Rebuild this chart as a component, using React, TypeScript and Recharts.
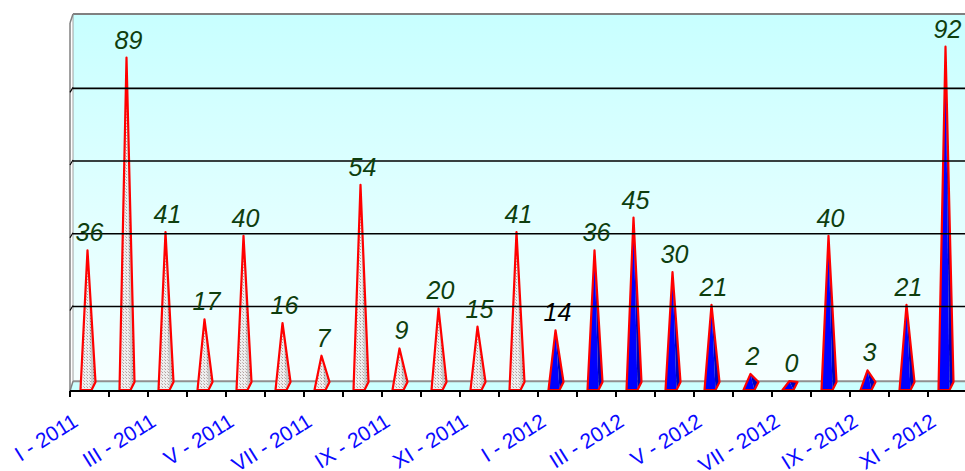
import React from 'react';
import { BarChart, Bar, XAxis, YAxis, ReferenceArea, ReferenceLine, LabelList } from 'recharts';

const months = [
  'I - 2011', 'II - 2011', 'III - 2011', 'IV - 2011', 'V - 2011', 'VI - 2011',
  'VII - 2011', 'VIII - 2011', 'IX - 2011', 'X - 2011', 'XI - 2011', 'XII - 2011',
  'I - 2012', 'II - 2012', 'III - 2012', 'IV - 2012', 'V - 2012', 'VI - 2012',
  'VII - 2012', 'VIII - 2012', 'IX - 2012', 'X - 2012', 'XI - 2012',
];
const values2011 = [36, 89, 41, 17, 40, 16, 7, 54, 9, 20, 15, 41];
const values2012 = [14, 36, 45, 30, 21, 2, 0, 40, 3, 21, 92];
const gridTicks = [20, 40, 60, 80];

const data = months.map((m, i) => ({
  month: m,
  year: i < values2011.length ? 2011 : 2012,
  value: i < values2011.length ? values2011[i] : values2012[i - values2011.length],
}));

const BAND = 39;
const AXIS_Y = 391;
const LABEL_GREEN = '#0e3e0e';

// back wall with the 3d edge on the left, defs live here too
const Wall = (p: any) => {
  const { x, y, width, height } = p;
  return (
    <g>
      <defs>
        <linearGradient id="wallGrad" x1="0" y1="0" x2="0" y2="1">
          <stop offset="0%" stopColor="#c8ffff" />
          <stop offset="100%" stopColor="#f6ffff" />
        </linearGradient>
        <pattern id="dots" width="3" height="3" patternUnits="userSpaceOnUse">
          <rect width="3" height="3" fill="#eeeeee" />
          <rect width="1" height="1" fill="#b0a0a0" />
          <rect x="2" y="2" width="1" height="1" fill="#c8b8b8" />
        </pattern>
        <pattern id="dotsDark" width="3" height="3" patternUnits="userSpaceOnUse">
          <rect width="3" height="3" fill="#c8c8c8" />
          <rect width="1" height="1" fill="#8a8080" />
        </pattern>
      </defs>
      <rect x={x + 3} y={y} width={width} height={height} fill="url(#wallGrad)" />
      <line x1={x + 3} y1={y} x2={x + width + 3} y2={y} stroke="#808080" strokeWidth={2} />
      <line x1={x + 3} y1={y} x2={x + 3} y2={y + height} stroke="#a0a0a0" strokeWidth={1} />
      <line x1={x + 3} y1={y} x2={x} y2={y + 9} stroke="#808080" strokeWidth={1.5} />
      <line x1={x} y1={y + 9} x2={x} y2={AXIS_Y} stroke="#808080" strokeWidth={1.5} />
    </g>
  );
};

const Floor = (p: any) => {
  const { x, y, width } = p;
  return (
    <g>
      <polygon
        points={`${x + 3},${y} ${x + width + 3},${y} ${x + width},${AXIS_Y} ${x},${AXIS_Y}`}
        fill="#ccffff"
      />
      <line x1={x + 3} y1={y} x2={x + width + 3} y2={y} stroke="#909090" strokeWidth={2} />
      <line x1={x + 3} y1={y} x2={x} y2={AXIS_Y} stroke="#808080" strokeWidth={1.5} />
    </g>
  );
};

// gridline on the back wall, a touch above the front value
const WallLine = (p: any) => {
  const { x1, y1, x2, y2 } = p;
  return (
    <g>
      <line x1={x1 + 3} y1={y1 - 2} x2={x2} y2={y2 - 2} stroke="#000" strokeWidth={1.6} />
      <line x1={x1} y1={y1 + 2} x2={x1 + 3} y2={y1 - 3} stroke="#000" strokeWidth={1.2} />
    </g>
  );
};

const Spike = (p: any) => {
  const { x, y, width, payload } = p;
  const cx = x + width / 2 - 2;
  const top = Math.min(y, 381);
  const is2011 = payload.year === 2011;
  const front = is2011 ? 'url(#dots)' : '#0000ff';
  const side = is2011 ? 'url(#dotsDark)' : '#0000b8';
  return (
    <g>
      <polygon points={`${cx - 7},${AXIS_Y - 1} ${cx},${top} ${cx + 4},${AXIS_Y - 1}`} fill={front} />
      <polygon points={`${cx},${top} ${cx + 8},${382} ${cx + 4},${AXIS_Y - 1}`} fill={side} />
      <polygon
        points={`${cx - 7},${AXIS_Y - 1} ${cx},${top} ${cx + 8},${382} ${cx + 4},${AXIS_Y - 1}`}
        fill="none"
        stroke="#ff0000"
        strokeWidth={2.2}
        strokeLinejoin="round"
      />
    </g>
  );
};

const ValueLabel = (p: any) => {
  const { x, y, width, value, index } = p;
  const cx = x + width / 2;
  const top = Math.min(y, 381);
  return (
    <text
      x={cx}
      y={top - 9}
      textAnchor="middle"
      fontFamily="'Liberation Sans', Arial, sans-serif"
      fontStyle="italic"
      fontSize={25}
      fill={index === 12 ? '#000000' : LABEL_GREEN}
    >
      {value}
    </text>
  );
};

const MonthTick = (p: any) => {
  const { x, payload, index } = p;
  const left = x - BAND / 2;
  const ax = x - 10;
  const ay = AXIS_Y + 34;
  return (
    <g>
      <line x1={left} y1={AXIS_Y} x2={left} y2={AXIS_Y + 6} stroke="#000" strokeWidth={2} />
      {index % 2 === 0 && (
        <text
          x={ax}
          y={ay}
          textAnchor="end"
          transform={`rotate(-32, ${ax}, ${ay})`}
          fontFamily="'Liberation Sans', Arial, sans-serif"
          fontSize={21}
          fill="#0a0aff"
        >
          {payload.value}
        </text>
      )}
    </g>
  );
};

export default function App() {
  return (
    <div style={{ position: 'absolute', left: 0, top: 0, width: 965, height: 471, overflow: 'hidden', background: '#fff' }}>
      <BarChart
        width={967}
        height={471}
        data={data}
        margin={{ top: 14, right: 0, left: 70, bottom: 0 }}
        barCategoryGap={0}
      >
        <YAxis hide type="number" domain={[-2.7, 101]} ticks={gridTicks} allowDataOverflow />
        <XAxis
          dataKey="month"
          interval={0}
          height={80}
          tickLine={false}
          axisLine={{ stroke: '#000', strokeWidth: 2 }}
          tick={<MonthTick />}
        />
        <ReferenceArea y1={0} y2={101} shape={<Wall />} ifOverflow="visible" />
        <ReferenceArea y1={-2.7} y2={0} shape={<Floor />} ifOverflow="visible" />
        {gridTicks.map((t) => (
          <ReferenceLine key={t} y={t} shape={<WallLine />} />
        ))}
        <Bar dataKey="value" shape={<Spike />} isAnimationActive={false} minPointSize={0}>
          <LabelList dataKey="value" content={<ValueLabel />} />
        </Bar>
      </BarChart>
    </div>
  );
}
